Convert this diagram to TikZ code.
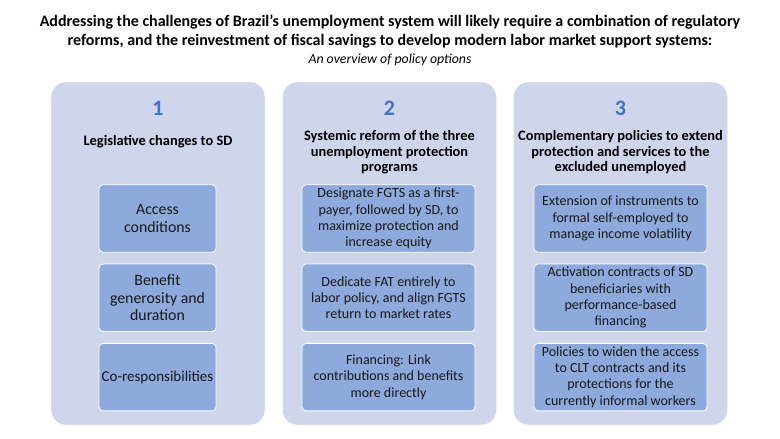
\documentclass[tikz,border=0pt]{standalone}
\usepackage{fontspec}
\setmainfont{Carlito}
\usepackage{xcolor}
\usetikzlibrary{positioning}
\definecolor{panelfill}{HTML}{CFD5EA}
\definecolor{itemfill}{HTML}{8EA9DB}
\definecolor{numblue}{HTML}{4472C4}

\begin{document}
\begin{tikzpicture}[
    x=1pt,y=-1pt,
    node distance=11pt,
    panel/.style={fill=panelfill,draw=white,rounded corners=15pt,minimum width=214pt,minimum height=343pt},
    num/.style={text=numblue,font=\fontsize{22}{24}\selectfont\bfseries},
    head/.style={align=center,font=\fontsize{14.4}{15.5}\selectfont\bfseries},
    item/.style={fill=itemfill,draw=white,thick,rounded corners=4pt,minimum height=67.5pt,align=center,inner sep=2pt,text=black!90,font=\fontsize{14}{16.3}\selectfont},
    itema/.style={item,minimum width=117pt,font=\fontsize{15.8}{17.3}\selectfont},
    itemb/.style={item,minimum width=173pt}
  ]
    \useasboundingbox (0,0) rectangle (780,439);
    % title
    \node[align=center,font=\fontsize{16}{19}\selectfont\bfseries] (title) at (390,31.5)
      {Addressing the challenges of Brazil’s unemployment system will likely require a combination of regulatory\\
       reforms, and the reinvestment of fiscal savings to develop modern labor market support systems:};
    \node[font=\fontsize{13.8}{15}\selectfont\itshape] (sub) at (390,59.5) {An overview of policy options};

    % panels
    \node[panel] (p1) at (158,253.5) {};
    \node[panel] (p2) at (389.5,253.5) {};
    \node[panel] (p3) at (620.5,253.5) {};

    \node[num] (n1) at (158,108) {1};
    \node[num] (n2) at (389.5,108) {2};
    \node[num] (n3) at (620.5,108) {3};

    \node[head] (h1) at (158,142) {Legislative changes to SD};
    \node[head] (h2) at (389.5,152.5) {Systemic reform of the three\\unemployment protection\\programs};
    \node[head] (h3) at (620.5,152.5) {Complementary policies to extend\\protection and services to the\\excluded unemployed};

    % column 1
    \node[itema] (a1) at (157.5,218.5) {Access\\conditions};
    \node[itema,below=of a1] (a2) {Benefit\\generosity and\\duration};
    \node[itema,below=of a2,font=\fontsize{15}{16}\selectfont] (a3) {Co-responsibilities};

    % column 2
    \node[itemb] (b1) at (388.5,218.5) {Designate FGTS as a first-\\payer, followed by SD, to\\maximize protection and\\increase equity};
    \node[itemb,below=of b1] (b2) {Dedicate FAT entirely to\\labor policy, and align FGTS\\return to market rates};
    \node[itemb,below=of b2] (b3) {Financing: Link\\contributions and benefits\\more directly};

    % column 3
    \node[itemb] (c1) at (620.5,218.5) {Extension of instruments to\\formal self-employed to\\manage income volatility};
    \node[itemb,below=of c1] (c2) {Activation contracts of SD\\beneficiaries with\\performance-based\\financing};
    \node[itemb,below=of c2] (c3) {Policies to widen the access\\to CLT contracts and its\\protections for the\\currently informal workers};
  \end{tikzpicture}
\end{document}
